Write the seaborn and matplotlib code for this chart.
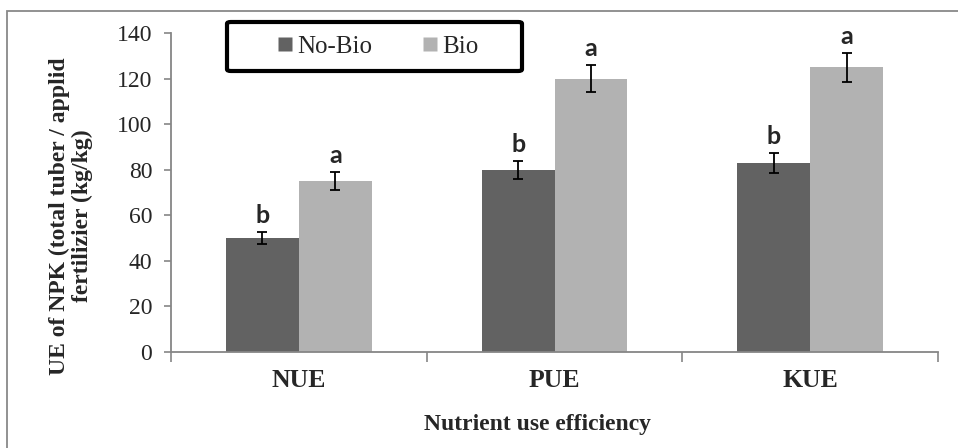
import numpy as np
import pandas as pd
import matplotlib
matplotlib.use("Agg")
import matplotlib.pyplot as plt
import seaborn as sns
from matplotlib.patches import FancyBboxPatch, Rectangle
from matplotlib.lines import Line2D

# values
categories = ["NUE", "PUE", "KUE"]
groups = ["No-Bio", "Bio"]
no_bio = [50, 80, 83]
bio = [75, 120, 125]
no_bio_err = [2.5, 4, 4.4]
bio_err = [4, 6, 6.3]
no_bio_letters = ["b", "b", "b"]
bio_letters = ["a", "a", "a"]

colors = {"No-Bio": "#626262", "Bio": "#b2b2b2"}

df = pd.DataFrame({
    "cat": categories * 2,
    "grp": ["No-Bio"] * 3 + ["Bio"] * 3,
    "val": no_bio + bio,
    "err": no_bio_err + bio_err,
    "lab": no_bio_letters + bio_letters,
})

sns.set_style("white")
plt.rcParams["font.family"] = ["Liberation Serif", "DejaVu Serif"]

W, H = 958, 448
fig = plt.figure(figsize=(W / 100, H / 100), dpi=100)
# axes placed in pixel units of the figure
ax = fig.add_axes([171 / W, (H - 352) / H, (938 - 171) / W, (352 - 33) / H])

sns.barplot(data=df, x="cat", y="val", hue="grp", order=categories, hue_order=groups,
            palette=colors, width=0.57, gap=0, errorbar=None, legend=False,
            edgecolor="none", linewidth=0, ax=ax)

# error bars and significance letters at the bar centres
for bar_container, grp in zip(ax.containers, groups):
    sub = df[df["grp"] == grp].set_index("cat").loc[categories]
    for rect, (_, row) in zip(bar_container, sub.iterrows()):
        xc = rect.get_x() + rect.get_width() / 2
        ax.errorbar(xc, row["val"], yerr=row["err"], fmt="none", ecolor="black",
                    elinewidth=1.3, capsize=3.8, capthick=1.3)
        ax.annotate(row["lab"], (xc, row["val"] + row["err"]), xytext=(0, 6.5),
                    textcoords="offset points", ha="center", va="baseline",
                    fontsize=18, fontweight="bold", family=["Lato", "DejaVu Sans"])

ax.set_xlim(-0.5, 2.5)
ax.set_ylim(0, 140)
ax.set_yticks(np.arange(0, 141, 20))
ax.tick_params(axis="y", labelsize=17, length=5, width=1.2, color="#868686",
               direction="out", left=True, pad=8.5)
ax.set_xticks([0, 1, 2])
ax.set_xticklabels(categories, fontsize=18.5, fontweight="bold")
ax.tick_params(axis="x", length=0, pad=12)
ax.set_xticks([-0.5, 0.5, 1.5, 2.5], minor=True)
ax.tick_params(axis="x", which="minor", length=7, width=1.2, color="#868686",
               direction="out", bottom=True)
for s in ["top", "right"]:
    ax.spines[s].set_visible(False)
for s in ["left", "bottom"]:
    ax.spines[s].set_color("#868686")
    ax.spines[s].set_linewidth(1.3)
ax.set_xlabel("")
ax.set_ylabel("")

fig.text(537 / W, (H - 430) / H, "Nutrient use efficiency", ha="center", va="baseline",
         fontsize=17, fontweight="bold")
fig.text(71 / W, (H - 216) / H, "UE of NPK (total tuber / applid\nfertilizier (kg/kg)",
         rotation=90, ha="center", va="center", multialignment="center",
         fontsize=17, fontweight="bold", linespacing=1.15)

# outer chart frame (cropped on the right and bottom)
fig.patches.append(Rectangle((7 / W, -0.1), 1.2, (H - 11) / H + 0.1,
                             transform=fig.transFigure, fill=False,
                             edgecolor="#898989", linewidth=1.3))

# legend box
fig.patches.append(FancyBboxPatch((227 / W, (H - 71) / H), (522 - 227) / W, 49 / H,
                                  boxstyle="round,pad=0,rounding_size=0.004",
                                  transform=fig.transFigure, fill=False,
                                  edgecolor="black", linewidth=3))
handles = [Line2D([], [], marker="s", linestyle="none", markersize=10.5,
                  markerfacecolor=colors[g], markeredgecolor="none") for g in groups]
fig.legend(handles, groups, loc="center", bbox_to_anchor=(378 / W, (H - 47) / H),
           ncol=2, frameon=False, fontsize=18, handlelength=0.6, handletextpad=0.2,
           columnspacing=2.0)

fig.savefig("out.png", dpi=100)
